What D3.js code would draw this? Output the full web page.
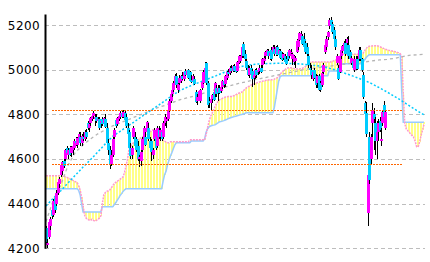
<!DOCTYPE html>
<html><head><meta charset="utf-8">
<script src="https://cdn.jsdelivr.net/npm/d3@7"></script>
<style>html,body{margin:0;padding:0;background:#fff;overflow:hidden}</style>
</head><body>
<svg id="c" width="430" height="262" style="background:#fff"></svg>
<script>
// ---- data ----
const yTicks = [4200, 4400, 4600, 4800, 5000, 5200];

const open = [
4290,4215,4250,4300,4370,4350,4425,4400,4450,4490,
4530,4545,4590,4600,4650,4620,4650,4625,4640,4650,
4680,4665,4690,4700,4670,4700,4690,4720,4760,4740,
4760,4780,4795,4780,4790,4770,4780,4760,4780,4760,
4780,4740,4670,4640,4580,4620,4700,4775,4755,4780,
4790,4805,4790,4805,4790,4740,4720,4650,4620,4700,
4700,4690,4660,4600,4590,4640,4690,4700,4720,4740,
4680,4680,4620,4690,4700,4660,4730,4700,4720,4700,
4760,4770,4780,4820,4860,4890,4910,4940,4970,4910,
4940,4950,4970,4960,4995,4975,5000,4990,4955,4950,
4960,4900,4860,4870,4860,4920,4940,4990,5030,4940,
4860,4850,4870,4900,4890,4920,4900,4920,4905,4925,
4950,4935,4965,4990,4985,5010,4995,5015,5000,4995,
5030,5040,5060,5115,5070,5040,5010,4975,5010,4995,
4965,4970,5000,4990,4995,5010,5020,5040,5060,5075,
5085,5060,5090,5080,5095,5070,5100,5070,5085,5070,
5055,5060,5050,5080,5060,5075,5050,5035,5040,5080,
5100,5135,5150,5150,5140,5120,5100,5060,5010,5000,
4960,5000,4965,4940,4970,4940,4930,4990,5080,5100,
5145,5195,5225,5205,5180,5140,5030,5010,4990,5060,
5085,5105,5120,5120,5110,5080,5030,5040,5000,5010,
5050,5050,5090,5050,4975,4850,4805,4360,4700,4600,
4760,4800,4760,4680,4720,4770,4680,4760,4840,4740];

const high = [
4300,4240,4330,4340,4380,4420,4440,4460,4500,4520,
4580,4590,4600,4645,4660,4650,4660,4660,4670,4690,
4700,4700,4720,4720,4710,4720,4730,4735,4770,4770,
4790,4800,4815,4800,4800,4790,4790,4780,4790,4790,
4800,4760,4690,4660,4640,4700,4740,4780,4790,4800,
4815,4815,4820,4815,4800,4760,4730,4670,4660,4750,
4720,4700,4680,4620,4640,4700,4750,4720,4770,4760,
4700,4690,4650,4740,4710,4750,4750,4740,4730,4770,
4800,4790,4830,4870,4900,4920,4950,4980,4985,4940,
4975,4975,4990,4995,5005,5000,5005,4995,4975,4980,
4970,4910,4890,4910,4915,4950,5000,5035,5035,4950,
4880,4880,4890,4910,4945,4930,4930,4930,4935,4955,
4960,4975,4995,5005,5015,5020,5020,5025,5015,5040,
5065,5065,5105,5125,5090,5050,5020,5015,5020,5005,
4985,5005,5010,5000,5020,5020,5055,5060,5085,5095,
5095,5080,5100,5110,5110,5105,5110,5095,5095,5080,
5075,5070,5060,5090,5095,5095,5075,5065,5060,5140,
5140,5170,5175,5160,5165,5130,5120,5070,5030,5020,
4995,5010,4980,4975,4980,4950,4990,5030,5115,5150,
5175,5230,5235,5215,5190,5150,5070,5020,5070,5095,
5110,5130,5140,5145,5150,5090,5060,5050,5060,5060,
5060,5100,5100,5055,4990,4860,4855,4690,4720,4710,
4850,4830,4790,4770,4780,4790,4740,4820,4860,4820];

const low = [
4220,4200,4240,4280,4330,4340,4360,4390,4440,4470,
4520,4530,4560,4590,4620,4600,4615,4610,4620,4640,
4660,4650,4680,4660,4660,4680,4680,4690,4730,4720,
4750,4770,4780,4750,4760,4750,4730,4740,4750,4750,
4740,4660,4620,4555,4570,4610,4690,4740,4750,4770,
4780,4785,4785,4770,4740,4700,4640,4600,4600,4690,
4650,4630,4590,4565,4570,4630,4680,4660,4710,4680,
4640,4590,4600,4680,4640,4650,4690,4680,4680,4690,
4750,4740,4770,4810,4850,4880,4900,4930,4920,4895,
4930,4940,4955,4950,4970,4965,4960,4945,4940,4940,
4930,4850,4840,4860,4850,4910,4935,4980,4930,4830,
4830,4820,4850,4860,4880,4880,4860,4890,4895,4915,
4920,4925,4955,4970,4975,4985,4990,4990,4985,4990,
5025,5030,5055,5055,5040,5000,4970,4965,4970,4925,
4930,4960,4965,4975,4980,4985,5010,5025,5050,5060,
5050,5045,5040,5070,5060,5060,5060,5065,5050,5040,
5045,5030,5020,5040,5055,5060,5020,5020,5010,5075,
5090,5130,5140,5110,5095,5070,5060,5010,4990,4960,
4950,4960,4920,4920,4905,4900,4925,4980,5070,5090,
5135,5185,5195,5160,5130,5090,5020,4955,4985,5050,
5075,5095,5060,5110,5050,5040,5020,5000,4990,5000,
5000,5040,5040,4990,4870,4790,4700,4300,4490,4580,
4700,4640,4620,4600,4680,4720,4660,4750,4780,4730];

const close = [
4230,4225,4320,4330,4345,4410,4370,4450,4495,4510,
4575,4585,4570,4640,4625,4640,4620,4655,4660,4680,
4670,4695,4710,4670,4705,4690,4720,4700,4740,4755,
4785,4795,4805,4790,4770,4780,4740,4770,4755,4785,
4745,4670,4640,4580,4620,4690,4730,4750,4785,4795,
4805,4790,4810,4775,4750,4710,4650,4615,4650,4740,
4660,4640,4600,4610,4630,4690,4740,4665,4765,4690,
4650,4630,4640,4730,4650,4740,4700,4730,4690,4760,
4790,4780,4820,4860,4890,4910,4940,4970,4930,4935,
4965,4970,4960,4990,4975,4995,4965,4950,4945,4970,
4935,4855,4880,4905,4910,4945,4990,5010,4940,4840,
4850,4870,4885,4865,4940,4890,4920,4895,4925,4950,
4930,4970,4990,4980,5010,4995,5015,4995,4990,5035,
5060,5060,5100,5060,5050,5010,4975,5010,4980,4960,
4975,5000,4975,4995,5010,4990,5050,5055,5080,5090,
5060,5075,5050,5100,5070,5100,5065,5090,5055,5045,
5070,5035,5025,5050,5090,5080,5070,5060,5055,5130,
5135,5165,5160,5115,5100,5080,5070,5020,5000,4975,
4990,4965,4930,4970,4910,4910,4985,5020,5110,5140,
5170,5225,5200,5170,5140,5100,5060,4960,5060,5090,
5105,5120,5070,5140,5060,5050,5055,5010,5050,5050,
5005,5090,5050,5000,4880,4800,4710,4530,4505,4700,
4820,4780,4680,4720,4760,4730,4690,4810,4790,4810];

// Ichimoku leading spans (26 periods ahead of the last candle)
const spanA = [
4525,4525,4525,4525,4525,4525,4525,4525,4525,4525,
4525,4525,4525,4520,4518,4515,4512,4510,4505,4500,
4498,4495,4480,4462,4430,4390,4350,4336,4330,4327,
4325,4330,4325,4322,4325,4330,4335,4345,4400,4440,
4450,4455,4458,4462,4470,4480,4490,4495,4500,4505,
4510,4515,4520,4540,4570,4600,4645,4655,4665,4673,
4678,4682,4686,4690,4695,4699,4702,4708,4712,4716,
4722,4726,4730,4731,4728,4720,4710,4695,4690,4685,
4680,4676,4673,4673,4677,4677,4677,4677,4677,4677,
4677,4677,4677,4677,4677,4677,4677,4686,4686,4686,
4686,4686,4686,4686,4686,4686,4686,4686,4710,4740,
4770,4790,4805,4820,4835,4848,4858,4865,4868,4872,
4875,4878,4879,4880,4880,4880,4880,4885,4888,4892,
4895,4897,4900,4905,4912,4918,4923,4926,4930,4933,
4936,4939,4941,4943,4945,4947,4949,4950,4952,4953,
4954,4955,4955,4956,4958,4962,4964,4970,4980,4988,
4995,5000,5005,5008,5009,5009,5008,5006,5005,5004,
5004,5004,5005,5007,5010,5014,5020,5028,5033,5035,
5035,5035,5035,5035,5035,5035,5035,5035,5035,5035,
5035,5035,5035,5038,5040,5044,5044,5050,5058,5065,
5070,5070,5070,5070,5070,5070,5070,5070,5070,5070,
5070,5070,5070,5070,5075,5085,5095,5103,5105,5106,
5107,5108,5108,5108,5107,5104,5101,5098,5095,5092,
5090,5088,5086,5085,5083,5082,5080,5078,5076,5072,
5060,4900,4760,4735,4728,4720,4712,4705,4698,4680,
4656,4654,4675,4705,4730,4755];

const spanB = [
4467,4467,4467,4467,4467,4467,4467,4467,4467,4467,
4467,4467,4467,4467,4467,4467,4467,4467,4467,4467,
4467,4467,4460,4440,4400,4363,4363,4363,4363,4363,
4363,4363,4363,4363,4363,4363,4363,4363,4386,4386,
4386,4386,4386,4386,4386,4386,4395,4404,4415,4425,
4437,4445,4455,4462,4467,4467,4467,4467,4467,4467,
4467,4467,4467,4467,4467,4467,4467,4467,4467,4467,
4467,4467,4467,4467,4467,4467,4467,4467,4467,4500,
4530,4545,4575,4595,4615,4630,4648,4665,4673,4673,
4673,4673,4673,4673,4673,4673,4673,4673,4681,4681,
4681,4681,4681,4681,4681,4681,4681,4690,4720,4735,
4744,4748,4750,4752,4753,4758,4762,4767,4768,4770,
4772,4775,4778,4781,4784,4786,4788,4790,4792,4794,
4796,4798,4800,4802,4804,4807,4807,4807,4807,4807,
4807,4807,4807,4807,4807,4807,4807,4807,4807,4807,
4807,4807,4807,4807,4830,4870,4910,4950,4970,4973,
4973,4973,4973,4973,4973,4973,4973,4973,4973,4973,
4973,4973,4973,4973,4973,4973,4973,4973,4973,4973,
4973,4973,4973,4973,4973,4973,4973,4973,4973,4973,
4973,4995,4995,4995,4995,4995,4995,4995,4995,5027,
5027,5027,5027,5027,5027,5027,5027,5027,5027,5027,
5027,5027,5027,5027,5035,5045,5055,5062,5067,5067,
5067,5067,5067,5067,5067,5067,5067,5067,5067,5067,
5067,5067,5067,5067,5067,5067,5067,5067,5067,5067,
4900,4765,4765,4765,4765,4765,4765,4765,4765,4765,
4765,4765,4765,4765,4765,4765];

// moving-average lines (sampled every 5 periods)
const maIndex = [0,5,10,15,20,25,30,35,40,45,50,55,60,65,70,75,80,85,90,95,
  100,105,110,115,120,125,130,135,140,145,150,155,160,165,170,175,180,185,190,195,
  200,205,210,215,220,225,230,235,240,245,250,255];
const maCyan = [4390,4425,4458,4494,4529,4564,4597,4632,4668,4702,
  4724,4747,4769,4792,4815,4837,4860,4884,4906,4921,
  4935,4948,4961,4974,4988,5000,5011,5020,5024,5027,
  5028,5029,5029,5028,5027,5024,5020,5016,5009,5000,
  4988,4977,4964,4952,4937,4919,4901,4881,4861,4839,
  4818,4798];
const maGray = [4320,4417,4484,4574,4632,4663,4690,4713,4731,4749,
  4762,4775,4789,4802,4816,4829,4840,4853,4865,4874,
  4883,4892,4903,4912,4921,4930,4939,4946,4955,4961,
  4968,4975,4982,4988,4995,5002,5006,5011,5015,5020,
  5024,5029,5033,5035,5040,5044,5047,5051,5058,5065,
  5067,5069];

// horizontal support / resistance levels
const levels = [4820, 4578];
const levelFrom = 4, levelTo = 241;

// ---- drawing ----
const svg = d3.select('#c');
const x = d3.scaleLinear().domain([0, spanA.length - 1]).range([46, 424]);
const y = d3.scaleLinear().domain([4200, 5250]).range([248.3, 14]);
const px = i => Math.round(x(i));

// grid
svg.append('g').attr('shape-rendering', 'crispEdges')
  .selectAll('line').data(yTicks).join('line')
  .attr('x1', 45).attr('x2', 425)
  .attr('y1', d => Math.round(y(d)) + 0.5).attr('y2', d => Math.round(y(d)) + 0.5)
  .attr('stroke', '#bdbdbd').attr('stroke-dasharray', '4,3');

// cloud stripes
svg.append('g').attr('shape-rendering', 'crispEdges')
  .selectAll('line').data(spanA).join('line')
  .attr('x1', (d, i) => px(i) + 0.5).attr('x2', (d, i) => px(i) + 0.5)
  .attr('y1', d => y(d)).attr('y2', (d, i) => y(spanB[i]))
  .attr('stroke', '#ffff88').attr('stroke-width', 1);

const spanLine = d3.line().x((d, i) => x(i)).y(d => y(d));
svg.append('path').attr('d', spanLine(spanB)).attr('fill', 'none')
  .attr('stroke', '#99ccff').attr('stroke-width', 1.5);
svg.append('path').attr('d', spanLine(spanA)).attr('fill', 'none')
  .attr('stroke', '#ff99cc').attr('stroke-width', 1.5).attr('stroke-dasharray', '2,1');

// moving averages
const maLine = d3.line().x((d, k) => x(maIndex[k])).y(d => y(d));
svg.append('path').attr('d', maLine(maGray)).attr('fill', 'none')
  .attr('stroke', '#b4b4b4').attr('stroke-width', 1.3).attr('stroke-dasharray', '3,3');
svg.append('path').attr('d', maLine(maCyan)).attr('fill', 'none')
  .attr('stroke', '#00ccff').attr('stroke-width', 1.5).attr('stroke-dasharray', '2,2');

// candles
const cg = svg.append('g').attr('shape-rendering', 'crispEdges')
  .selectAll('g').data(d3.range(close.length)).join('g');
cg.append('line')
  .attr('x1', i => px(i) + 0.5).attr('x2', i => px(i) + 0.5)
  .attr('y1', i => y(high[i])).attr('y2', i => y(low[i]))
  .attr('stroke', '#000').attr('stroke-width', 1);
cg.append('rect')
  .attr('x', i => px(i) - 1).attr('width', 3)
  .attr('y', i => y(Math.max(open[i], close[i])))
  .attr('height', i => Math.max(1.5, Math.abs(y(open[i]) - y(close[i]))))
  .attr('fill', i => close[i] >= open[i] ? '#ff00ff' : '#00ccff');

// levels
svg.append('g').attr('shape-rendering', 'crispEdges')
  .selectAll('line').data(levels).join('line')
  .attr('x1', x(levelFrom)).attr('x2', x(levelTo))
  .attr('y1', d => Math.round(y(d)) + 0.5).attr('y2', d => Math.round(y(d)) + 0.5)
  .attr('stroke', '#ff6600').attr('stroke-width', 1.5).attr('stroke-dasharray', '2,1');

// axis
const axis = d3.axisLeft(y).tickValues(yTicks).tickSize(0).tickPadding(5).tickFormat(d3.format('d'));
const ag = svg.append('g').attr('transform', 'translate(45,0)').call(axis);
ag.select('.domain').attr('stroke', '#000').attr('stroke-width', 2);
ag.selectAll('text').attr('font-family', 'DejaVu Sans').attr('font-size', 12)
  .attr('fill', '#000').attr('letter-spacing', '0.4px');
</script>
</body></html>
